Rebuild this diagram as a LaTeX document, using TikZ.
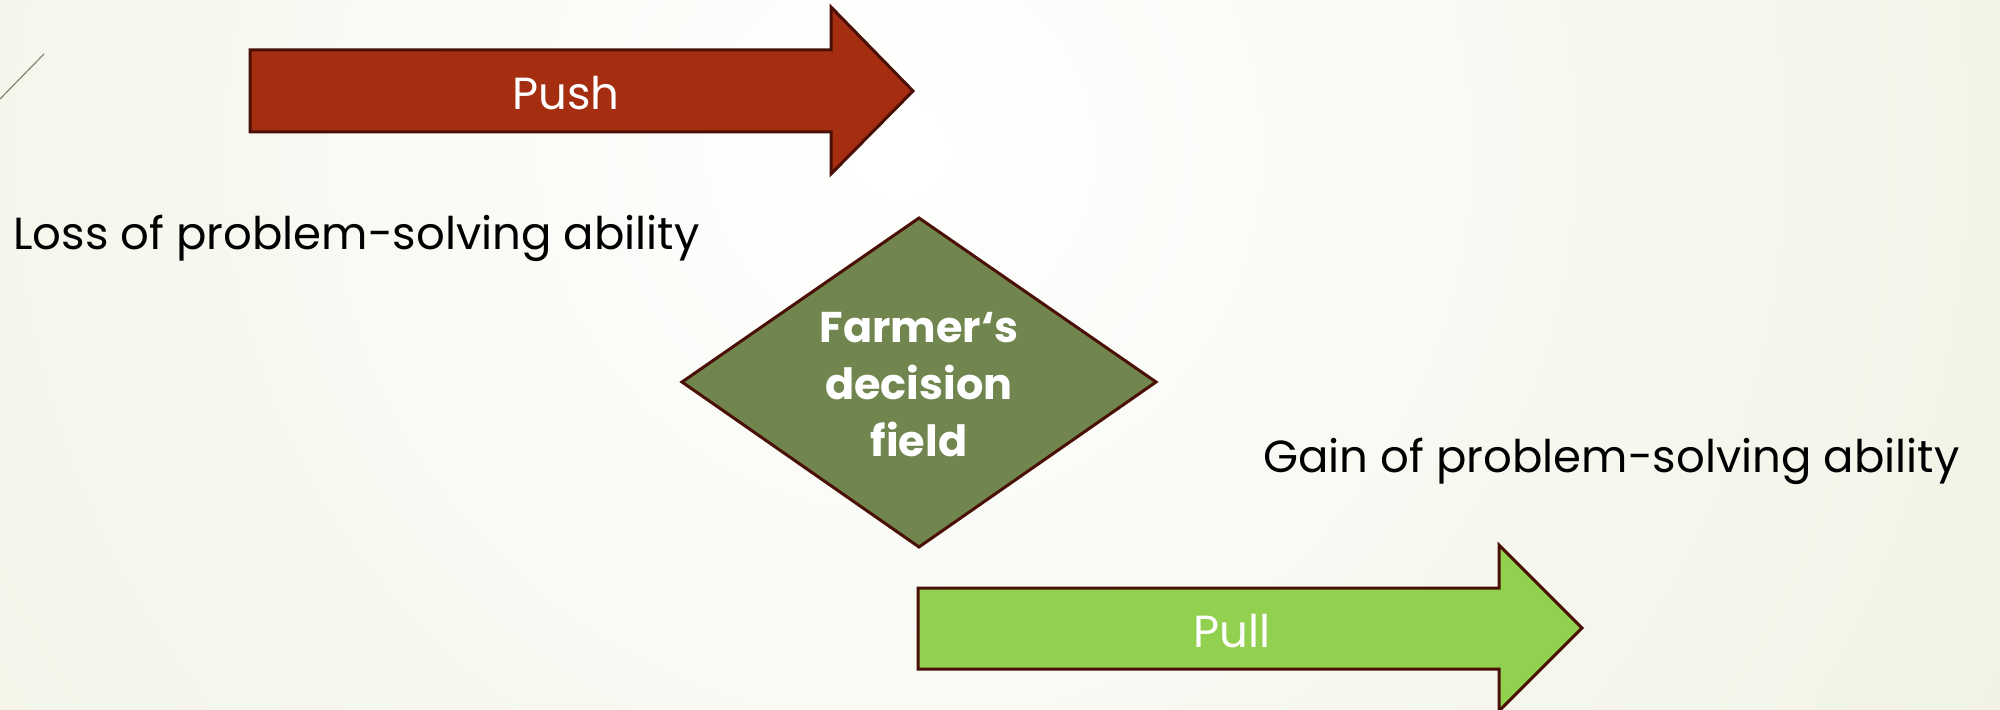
\documentclass[tikz,border=0pt]{standalone}
\usepackage{fontspec}
\setmainfont{Poppins}
\definecolor{bggreen}{HTML}{E2E9CD}
\definecolor{pushred}{HTML}{A52D10}
\definecolor{pullgreen}{HTML}{92D050}
\definecolor{diagreen}{HTML}{71864F}
\definecolor{edgebrown}{HTML}{4A1006}
\definecolor{linegray}{HTML}{8A8272}
\begin{document}
\begin{tikzpicture}[x=0.5pt,y=-0.5pt,
  shapeedge/.style={draw=edgebrown, line width=1.5pt, line join=miter},
  arrowlabel/.style={text=white, font=\fontsize{22.5}{27}\selectfont, anchor=base west, inner sep=0pt},
  sidelabel/.style={text=black, font=\fontsize{22.5}{27}\selectfont, anchor=base west, inner sep=0pt},
  fieldlabel/.style={text=white, font=\bfseries\fontsize{21.5}{28.5}\selectfont, align=center, inner sep=0pt}
]
\useasboundingbox (0,0) rectangle (2000,710);
\begin{scope}
  \clip (0,0) rectangle (2000,710);
  \shade[inner color=white, outer color=bggreen] (900,150) circle (1150pt);
\end{scope}
% thin decorative line
\coordinate (d1) at (0,99);
\coordinate (d2) at (44,54);
\draw[linegray, line width=0.6pt] (d1) -- (d2);
% push arrow
\path[shapeedge, fill=pushred] (250,50) -- (831,50) -- (831,7) -- (913,91) -- (831,174) -- (831,132) -- (250,132) -- cycle;
\node[arrowlabel] (push) at (512,110) {Push};
% pull arrow
\path[shapeedge, fill=pullgreen] (918,588) -- (1499,588) -- (1499,545) -- (1582,628) -- (1499,711) -- (1499,669) -- (918,669) -- cycle;
\node[arrowlabel] (pull) at (1193,647) {Pull};
% diamond
\path[shapeedge, fill=diagreen] (682,382) -- (919,218) -- (1156,382) -- (919,547) -- cycle;
\node[fieldlabel] (field) at (919,385) {Farmer‘s\\decision\\field};
% side labels
\node[sidelabel] (loss) at (13,250) {Loss of problem-solving ability};
\node[sidelabel] (gain) at (1263,473) {Gain of problem-solving ability};
\end{tikzpicture}
\end{document}
